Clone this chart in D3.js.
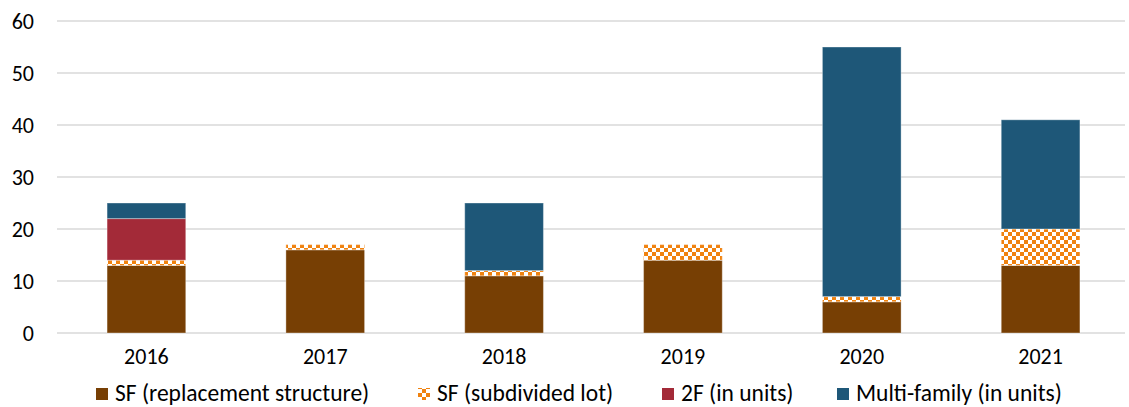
<!DOCTYPE html>
<html><head><meta charset="utf-8">
<script src="https://cdn.jsdelivr.net/npm/d3@7"></script>
<style>body{margin:0;background:#fff}svg{display:block}text{font-family:Carlito,Calibri,Lato,sans-serif}</style>
</head><body><svg id="c" width="1129" height="407"></svg>
<script>
const years = ["2016","2017","2018","2019","2020","2021"];
const sfReplacement = [13,16,11,14,6,13];
const sfSubdivided = [1,1,1,3,1,7];
const twoFamily = [8,0,0,0,0,0];
const multiFamily = [3,0,13,0,48,21];
const seriesNames = ["SF (replacement structure)","SF (subdivided lot)","2F (in units)","Multi-family (in units)"];
const yTicks = [0,10,20,30,40,50,60];

const svg = d3.select("#c");
const W=1129;
const m={l:57,r:-1};
const x=d3.scaleBand().domain(years).range([m.l,W-m.r]).paddingInner(0.56).paddingOuter(0.28);
const y=d3.scaleLinear().domain([0,60]).range([333,21]);
const FONT="Carlito,Calibri,Lato,sans-serif";

const defs=svg.append("defs");
const pat=defs.append("pattern").attr("id","chk").attr("patternUnits","userSpaceOnUse").attr("width",8).attr("height",8);
pat.append("rect").attr("width",8).attr("height",8).attr("fill","#fff");
pat.append("rect").attr("width",4).attr("height",4).attr("fill","#F0820F");
pat.append("rect").attr("x",4).attr("y",4).attr("width",4).attr("height",4).attr("fill","#F0820F");

const fills=["#773F04","url(#chk)","#A32A38","#1E5778"];

// gridlines
svg.append("g").selectAll("line").data(yTicks).join("line")
 .attr("x1",m.l).attr("x2",1125).attr("y1",d=>y(d)).attr("y2",d=>y(d))
 .attr("stroke","#d9d9d9").attr("stroke-width",1.5);

// y axis labels
const ya=d3.axisLeft(y).tickValues(yTicks).tickSize(0).tickPadding(0);
const yg=svg.append("g").attr("transform","translate(34,0)").call(ya);
yg.select(".domain").remove();
yg.selectAll("text").attr("font-size",22).attr("fill","#000").attr("font-family",FONT).attr("dy","0.34em").attr("text-anchor","end");

const data=years.map((yr,i)=>({yr,v:[sfReplacement[i],sfSubdivided[i],twoFamily[i],multiFamily[i]]}));
const stack=d3.stack().keys([0,1,2,3]).value((d,k)=>d.v[k]);
const layers=stack(data);
svg.append("g").selectAll("g").data(layers).join("g").attr("fill",(d,i)=>fills[i])
 .selectAll("rect").data(d=>d.filter(s=>s[1]-s[0]>0)).join("rect")
 .attr("x",d=>x(d.data.yr)).attr("width",x.bandwidth())
 .attr("y",d=>y(d[1])).attr("height",d=>y(d[0])-y(d[1]))
 .attr("stroke","rgba(255,255,255,0.35)").attr("stroke-width",1);

// x axis labels
const xa=d3.axisBottom(x).tickSize(0).tickPadding(0);
const xg=svg.append("g").attr("transform","translate(0,357)").call(xa);
xg.select(".domain").remove();
xg.selectAll("text").attr("font-size",22).attr("fill","#000").attr("font-family",FONT).attr("dy","0.34em");

// legend
const lx=[96,418,662,837];
const lg=svg.append("g").selectAll("g").data(seriesNames).join("g").attr("transform",(d,i)=>`translate(${lx[i]},393)`);
lg.append("rect").attr("x",0).attr("y",-5).attr("width",12).attr("height",12).attr("fill",(d,i)=>fills[i]);
lg.append("text").attr("x",19).attr("y",0).attr("dy","0.34em").attr("font-size",23.5).attr("fill","#000").attr("font-family",FONT).text(d=>d);
</script></body></html>
